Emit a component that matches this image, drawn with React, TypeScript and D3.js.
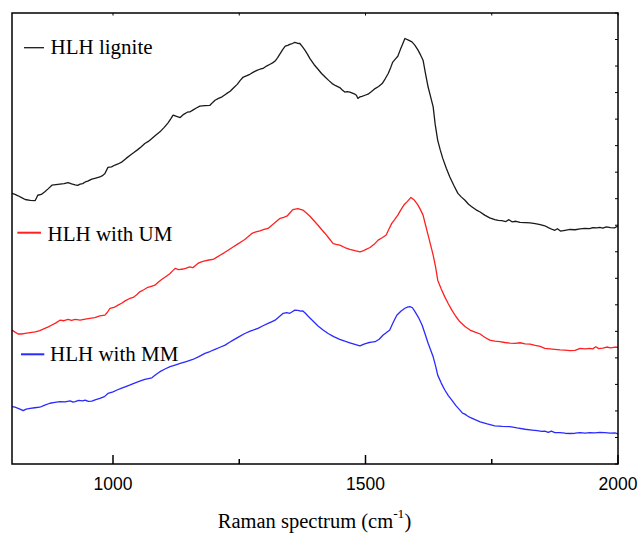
import React from "react";
import * as d3 from "d3";

// Raman spectra: [wavenumber (cm-1), intensity (a.u.)]
const ligniteData: [number, number][] = [
  [800, 1020], [806, 1016], [812, 1011], [819, 1004], [826, 997], [836, 994], [846, 993], [851, 1013],
  [858, 1016], [865, 1026], [872, 1038], [879, 1051], [887, 1053], [895, 1055], [903, 1057], [911, 1061],
  [918, 1056], [925, 1052], [930, 1050], [935, 1055], [940, 1057], [945, 1063], [950, 1066], [958, 1074],
  [966, 1078], [974, 1082], [980, 1088], [984, 1095], [990, 1118], [997, 1120], [1004, 1127], [1010, 1131],
  [1018, 1139], [1026, 1152], [1034, 1164], [1042, 1175], [1049, 1185], [1056, 1196], [1063, 1208],
  [1070, 1216], [1077, 1227], [1085, 1240], [1093, 1252], [1101, 1268], [1109, 1286], [1114, 1300],
  [1119, 1315], [1126, 1310], [1133, 1306], [1140, 1318], [1147, 1326], [1152, 1327], [1158, 1334],
  [1165, 1342], [1172, 1349], [1182, 1351], [1192, 1352], [1197, 1362], [1202, 1371], [1209, 1378],
  [1216, 1384], [1224, 1395], [1232, 1405], [1239, 1418], [1246, 1431], [1252, 1446], [1257, 1457],
  [1264, 1463], [1271, 1469], [1278, 1477], [1285, 1484], [1291, 1488], [1297, 1491], [1304, 1500],
  [1311, 1507], [1316, 1512], [1321, 1519], [1326, 1532], [1331, 1547], [1336, 1562], [1341, 1575],
  [1346, 1578], [1350, 1582], [1355, 1585], [1360, 1589], [1365, 1586], [1370, 1585], [1375, 1573],
  [1380, 1560], [1385, 1545], [1390, 1528], [1398, 1506], [1406, 1488], [1413, 1472], [1420, 1459],
  [1427, 1446], [1434, 1434], [1441, 1426], [1449, 1419], [1454, 1410], [1459, 1402], [1464, 1404],
  [1469, 1402], [1474, 1398], [1479, 1394], [1482, 1390], [1485, 1378], [1489, 1384], [1493, 1386],
  [1499, 1390], [1505, 1394], [1512, 1404], [1519, 1415], [1526, 1423], [1533, 1434], [1539, 1452],
  [1545, 1472], [1550, 1495], [1554, 1515], [1559, 1526], [1564, 1537], [1569, 1562], [1574, 1585],
  [1578, 1604], [1585, 1598], [1592, 1591], [1598, 1578], [1604, 1560], [1609, 1542], [1614, 1522],
  [1619, 1470], [1624, 1421], [1629, 1384], [1634, 1346], [1638, 1280], [1643, 1220], [1648, 1184],
  [1653, 1152], [1660, 1115], [1667, 1082], [1675, 1050], [1683, 1020], [1690, 1006], [1697, 994],
  [1704, 979], [1711, 969], [1719, 958], [1727, 950], [1736, 938], [1746, 928], [1756, 921], [1763, 918],
  [1770, 917], [1778, 914], [1784, 921], [1790, 913], [1798, 915], [1806, 911], [1816, 910], [1826, 909],
  [1836, 906], [1846, 902], [1855, 898], [1862, 891], [1870, 884], [1875, 881], [1880, 887], [1886, 878],
  [1895, 881], [1905, 884], [1915, 883], [1925, 886], [1934, 888], [1944, 887], [1950, 891], [1958, 890],
  [1964, 892], [1970, 889], [1977, 894], [1985, 891], [1993, 890], [2000, 897],
];

const umData: [number, number][] = [
  [800, 505], [806, 497], [812, 490], [819, 490], [826, 492], [836, 495], [846, 498], [855, 503],
  [865, 511], [872, 517], [879, 524], [887, 532], [895, 542], [903, 540], [911, 545], [918, 541],
  [925, 545], [935, 542], [945, 546], [954, 549], [964, 552], [974, 558], [984, 561], [989, 572],
  [994, 587], [1002, 590], [1010, 599], [1017, 606], [1024, 615], [1032, 623], [1040, 628], [1047, 638],
  [1053, 649], [1061, 657], [1069, 666], [1076, 670], [1083, 674], [1090, 686], [1097, 696], [1105, 707],
  [1113, 718], [1118, 728], [1123, 737], [1130, 733], [1139, 735], [1145, 738], [1152, 743], [1158, 740],
  [1168, 756], [1175, 762], [1182, 766], [1190, 769], [1198, 771], [1205, 779], [1212, 787], [1220, 796],
  [1228, 806], [1237, 817], [1246, 828], [1254, 838], [1261, 846], [1268, 858], [1275, 869], [1283, 875],
  [1291, 879], [1299, 884], [1307, 888], [1314, 899], [1321, 910], [1331, 926], [1338, 930], [1345, 935],
  [1350, 946], [1356, 959], [1361, 961], [1366, 963], [1371, 960], [1376, 957], [1383, 946], [1390, 934],
  [1398, 917], [1406, 900], [1413, 884], [1420, 869], [1428, 850], [1436, 831], [1442, 828], [1449, 825],
  [1459, 816], [1469, 809], [1479, 804], [1489, 800], [1495, 803], [1500, 808], [1509, 816], [1517, 828],
  [1525, 844], [1533, 853], [1541, 863], [1546, 884], [1552, 907], [1558, 922], [1564, 938], [1570, 958],
  [1576, 976], [1583, 990], [1590, 1005], [1597, 994], [1604, 976], [1609, 958], [1614, 938], [1619, 900],
  [1624, 863], [1629, 825], [1634, 787], [1639, 740], [1643, 693], [1650, 660], [1657, 630], [1664, 604],
  [1671, 580], [1679, 556], [1687, 536], [1697, 518], [1707, 505], [1717, 497], [1727, 490], [1736, 478],
  [1746, 467], [1756, 463], [1766, 461], [1776, 458], [1786, 456], [1796, 455], [1806, 457], [1816, 453],
  [1826, 452], [1836, 447], [1846, 443], [1855, 436], [1865, 434], [1875, 432], [1885, 430], [1895, 429],
  [1905, 427], [1915, 428], [1925, 436], [1935, 434], [1944, 436], [1950, 434], [1956, 442], [1962, 435],
  [1970, 437], [1978, 441], [1985, 438], [1992, 440], [2000, 440],
];

const mmData: [number, number][] = [
  [800, 216], [806, 214], [812, 210], [817, 206], [822, 201], [828, 207], [836, 210], [845, 212],
  [855, 214], [865, 222], [875, 229], [885, 232], [895, 235], [905, 234], [915, 238], [921, 233],
  [925, 235], [932, 240], [940, 238], [945, 241], [951, 236], [958, 237], [966, 243], [974, 247],
  [983, 254], [990, 266], [1000, 272], [1008, 279], [1016, 285], [1024, 291], [1034, 298], [1044, 306],
  [1053, 312], [1063, 319], [1077, 325], [1085, 337], [1093, 348], [1103, 358], [1113, 367], [1123, 373],
  [1133, 379], [1145, 386], [1158, 394], [1170, 405], [1182, 417], [1192, 424], [1202, 432], [1212, 440],
  [1222, 448], [1230, 458], [1238, 467], [1250, 480], [1261, 492], [1273, 502], [1287, 511], [1297, 521],
  [1307, 530], [1314, 536], [1321, 542], [1329, 555], [1337, 568], [1344, 571], [1350, 568], [1355, 574],
  [1360, 580], [1366, 579], [1372, 576], [1376, 577], [1381, 568], [1386, 558], [1396, 539], [1406, 520],
  [1416, 505], [1426, 492], [1437, 480], [1449, 470], [1459, 463], [1469, 457], [1479, 451], [1489, 445],
  [1497, 452], [1505, 457], [1512, 459], [1519, 461], [1527, 470], [1535, 486], [1541, 495], [1548, 505],
  [1555, 534], [1562, 561], [1570, 576], [1578, 587], [1583, 591], [1588, 593], [1593, 589], [1598, 574],
  [1605, 552], [1612, 524], [1618, 490], [1624, 455], [1629, 430], [1634, 404], [1639, 368], [1643, 335],
  [1650, 305], [1657, 279], [1664, 258], [1671, 241], [1679, 220], [1687, 203], [1692, 192], [1697, 188],
  [1702, 181], [1707, 176], [1717, 167], [1727, 159], [1741, 151], [1756, 144], [1771, 142], [1786, 141],
  [1800, 136], [1816, 131], [1830, 128], [1840, 126], [1849, 123], [1855, 124], [1862, 119], [1868, 124],
  [1875, 118], [1885, 118], [1895, 116], [1905, 115], [1915, 116], [1925, 118], [1935, 116], [1944, 118],
  [1954, 117], [1964, 119], [1974, 118], [1985, 116], [1994, 117], [2000, 114],
];

const xMajorTicks = [1000, 1500, 2000];
const xMinorTicks = [1250, 1750];
const yTickValues = d3.range(0, 1701, 100);

const legendItems = [
  { label: "HLH lignite", color: "#1a1a1a" },
  { label: "HLH with UM", color: "#ff2020" },
  { label: "HLH with MM", color: "#2a2aff" },
];

const W = 638;
const H = 533;
const left = 12;
const right = 618;
const top = 13;
const bottom = 464;

const SERIF = '"Liberation Serif", "Times New Roman", serif';
const SANS = '"Liberation Sans", Arial, sans-serif';

export default function App() {
  const x = d3.scaleLinear().domain([800, 2000]).range([left, right]);
  const y = d3.scaleLinear().domain([0, 1700]).range([bottom, top]);
  const line = d3
    .line<[number, number]>()
    .x((d) => x(d[0]))
    .y((d) => y(d[1]));

  const series = [ligniteData, umData, mmData];

  const legendPos = [
    { lx1: 24, lx2: 44, ly: 47.7, tx: 50.5, ty: 53.5, sw: 1.3 },
    { lx1: 17.3, lx2: 41, ly: 232.7, tx: 47.5, ty: 240.5, sw: 2 },
    { lx1: 21, lx2: 44.3, ly: 354.3, tx: 50, ty: 360.5, sw: 2 },
  ];

  return (
    <svg
      width={W}
      height={H}
      style={{ position: "absolute", left: 0, top: 0, background: "#fff" }}
    >
      <rect x={0} y={0} width={W} height={H} fill="#fff" />
      {series.map((s, i) => (
        <path
          key={i}
          d={line(s) || ""}
          fill="none"
          stroke={legendItems[i].color}
          strokeWidth={1.3}
          strokeLinejoin="round"
        />
      ))}
      <rect
        x={left}
        y={top}
        width={right - left}
        height={bottom - top}
        fill="none"
        stroke="#000"
        strokeWidth={1.5}
      />
      {xMajorTicks.map((t) => (
        <line key={"bM" + t} x1={x(t)} x2={x(t)} y1={bottom} y2={bottom - 9} stroke="#000" strokeWidth={1.5} />
      ))}
      {xMinorTicks.map((t) => (
        <line key={"bm" + t} x1={x(t)} x2={x(t)} y1={bottom} y2={bottom - 5} stroke="#000" strokeWidth={1.5} />
      ))}
      {[...xMajorTicks, ...xMinorTicks].map((t) => (
        <line key={"t" + t} x1={x(t)} x2={x(t)} y1={top} y2={top + 2.5} stroke="#000" strokeWidth={1} />
      ))}
      {yTickValues.map((t) => (
        <line key={"r" + t} x1={right} x2={right - 3} y1={y(t)} y2={y(t)} stroke="#000" strokeWidth={1} />
      ))}
      {xMajorTicks.map((t) => (
        <text
          key={"l" + t}
          x={x(t)}
          y={489.5}
          textAnchor="middle"
          style={{ fontFamily: SANS, fontSize: "17.5px" }}
          fill="#000"
        >
          {t}
        </text>
      ))}
      <text
        x={314.5}
        y={528}
        textAnchor="middle"
        style={{ fontFamily: SERIF, fontSize: "20.5px" }}
        fill="#000"
      >
        Raman spectrum (cm
        <tspan style={{ fontSize: "13.5px" }} dy={-10}>-1</tspan>
        <tspan dy={10}>)</tspan>
      </text>
      {legendItems.map((item, i) => {
        const p = legendPos[i];
        return (
          <g key={item.label}>
            <line x1={p.lx1} x2={p.lx2} y1={p.ly} y2={p.ly} stroke={item.color} strokeWidth={p.sw} />
            <text
              x={p.tx}
              y={p.ty}
              style={{ fontFamily: SERIF, fontSize: "21px" }}
              fill="#000"
            >
              {item.label}
            </text>
          </g>
        );
      })}
    </svg>
  );
}
